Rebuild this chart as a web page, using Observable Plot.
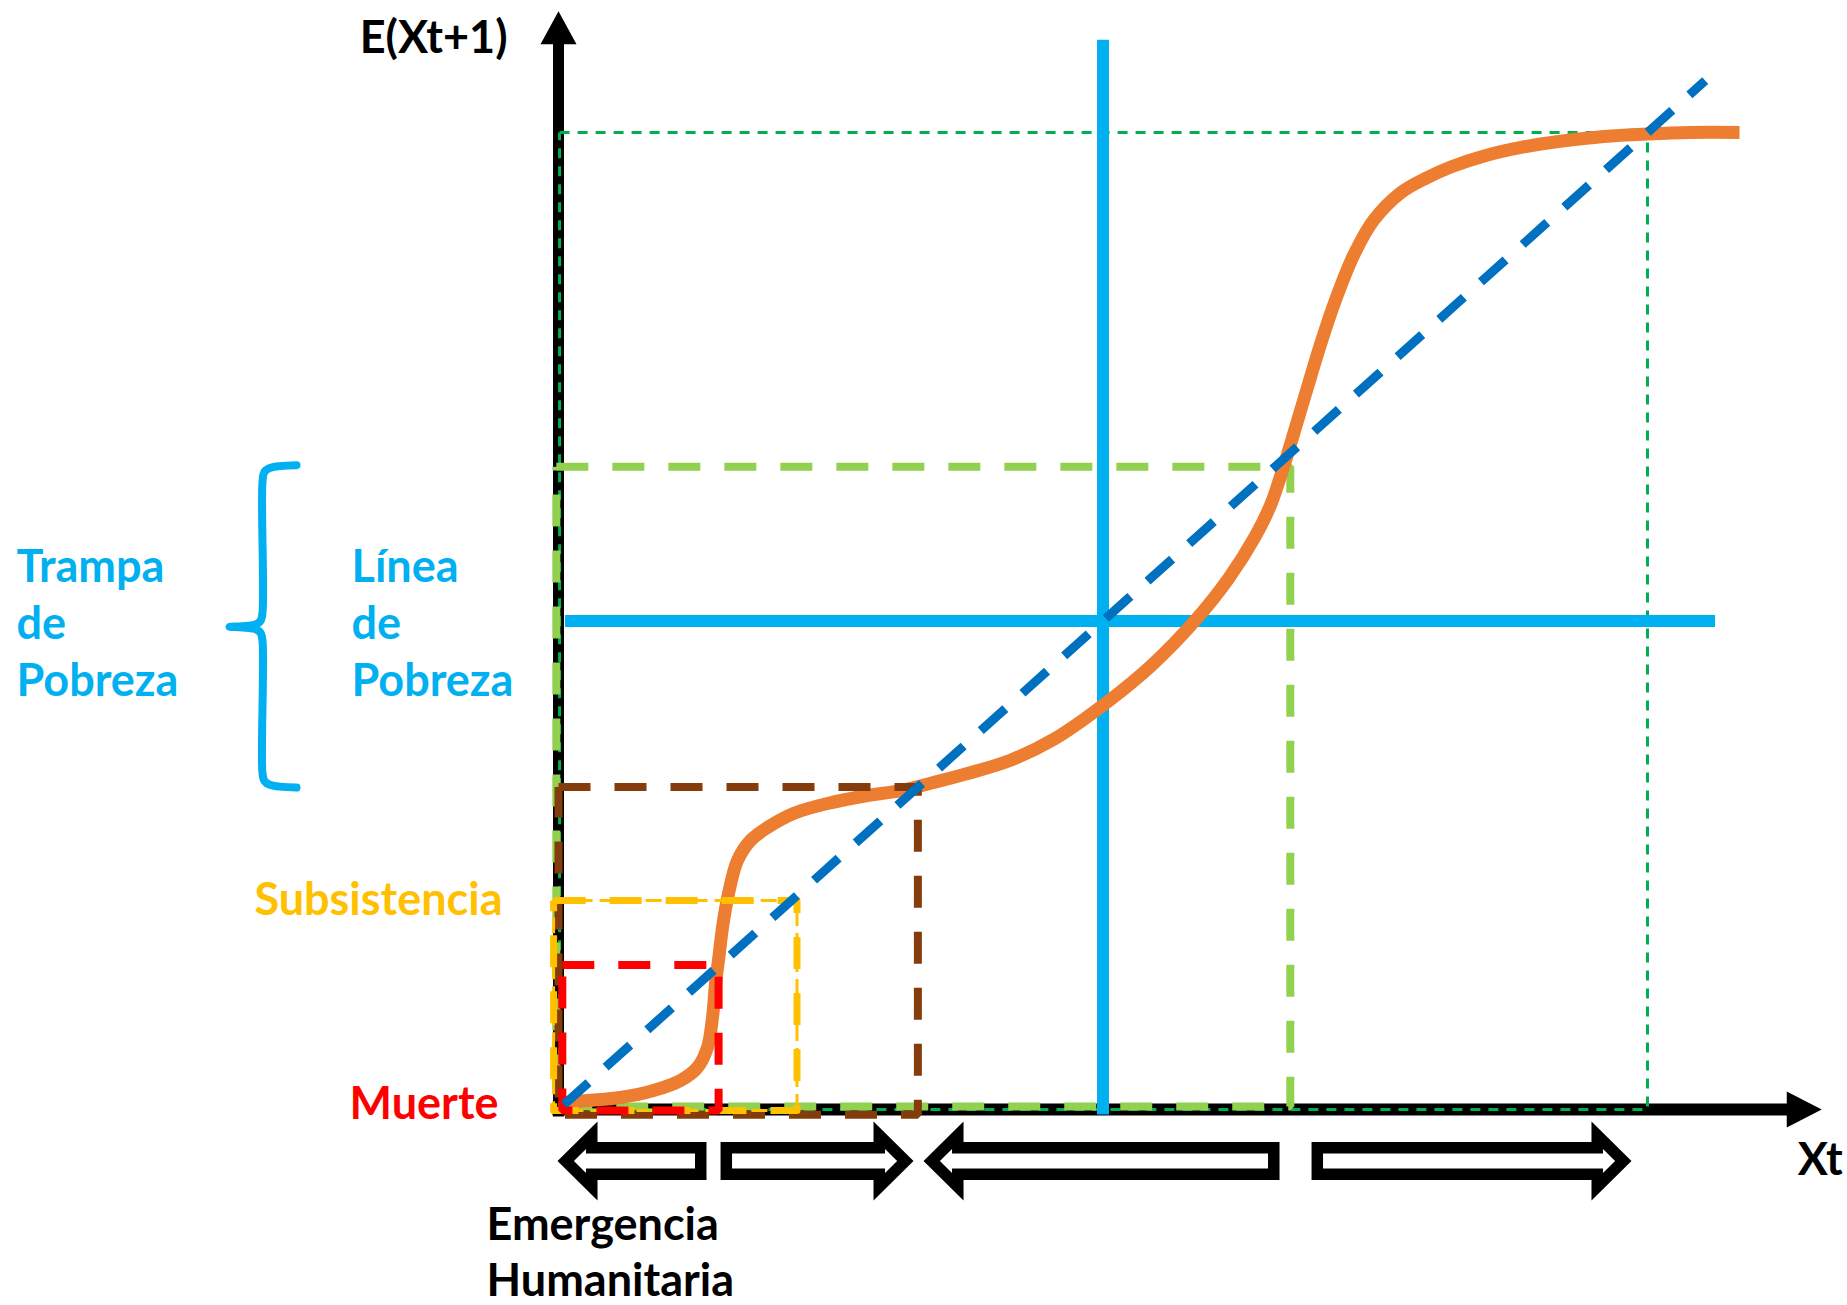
<!DOCTYPE html>
<html>
<head>
<meta charset="utf-8">
<script src="https://cdn.jsdelivr.net/npm/d3@7"></script>
<script src="https://cdn.jsdelivr.net/npm/@observablehq/plot@0.6"></script>
<style>
  html, body { margin: 0; padding: 0; background: #ffffff; }
  #chart svg { display: block; }
</style>
</head>
<body>
<div id="chart"></div>
<script>
// ---------------- DATA ----------------
// Dynamics curve Xt -> E(Xt+1) (orange S-curve), in income units
const curveX = [0.64, 2.66, 5.69, 8.72, 11.20, 12.76, 13.68, 14.14, 14.42, 14.69, 15.06, 15.61, 16.44, 17.63, 19.19,
  21.58, 24.70, 28.37, 31.40, 34.44, 37.56, 41.5, 45.5, 50.5, 54.5, 58.5, 61.5, 64.0, 65.4, 66.5,
  67.6, 68.8, 70.0, 71.4, 73.0, 74.84, 77.3, 79.8, 82.0, 85.0, 88.5, 92.0, 96.0, 100.0, 104.0, 108.45];
const curveY = [0.72, 0.92, 1.23, 1.94, 2.97, 4.30, 6.35, 9.42, 12.90, 15.25, 18.63, 22.11, 25.49, 27.53, 28.86,
  30.30, 31.32, 32.14, 32.65, 33.47, 34.39, 35.75, 37.9, 41.8, 45.5, 50.1, 54.3, 58.7, 61.9, 65.5,
  69.5, 74.0, 78.4, 83.0, 87.4, 91.0, 93.8, 95.4, 96.5, 97.6, 98.5, 99.1, 99.6, 99.85, 100.0, 100.0];

// 45-degree line E(Xt+1) = Xt
const diagonalX = [0.5, 105.3];

// Reference levels (dashed boxes): x and y of each corner
const levelNames = ["Muerte", "Subsistencia", "Trampa inferior", "Trampa superior", "Equilibrio alto"];
const levelX = [14.7, 21.9, 33.0, 67.2, 100.0];
const levelY = [14.8, 21.4, 33.0, 65.8, 100.0];

// Poverty line (horizontal and vertical)
const povertyLine = 50;
const povertyExtentX = [0.6, 106.2];
const povertyExtentY = [-0.5, 109.5];

// Axis extents
const axisLabels = ["E(Xt+1)", "Xt"];
const axisXEnd = 116.0;
const axisYEnd = 112.4;

// Direction arrows below the x axis (tail, tip)
const arrowTail = [13.59, 14.88, 66.21, 69.15];
const arrowTip  = [-0.09, 32.60, 33.52, 98.53];

// Text annotations
const labelTrampa = "Trampa\nde\nPobreza";
const labelLinea = "Línea\nde\nPobreza";
const labelSubsistencia = "Subsistencia";
const labelMuerte = "Muerte";
const labelEmergencia = "Emergencia\nHumanitaria";

// ---------------- LAYOUT / STYLE ----------------
const X_PX = [558, 1647];
const Y_PX = [1109, 132];
const ux = 100 / (X_PX[1] - X_PX[0]);   // data units per pixel (x)
const uy = 100 / (Y_PX[0] - Y_PX[1]);   // data units per pixel (y)

const FONT = "Lato, 'Open Sans', sans-serif";
const FS = 45;
const LH = 1.26;

const C = {
  orange: "#ED7D31", blueDash: "#0070C0", cyan: "#00B0F0", lime: "#92D050",
  green: "#00B050", brown: "#843C0C", yellow: "#FFC000", red: "#FF0000", black: "#000000"
};

// rectangles (in data) for each level, with tiny offsets so overlapping sides stay visible
function rect(x0, y0, x1, y1) {
  return [[x0, y1], [x1, y1], [x1, y0], [x0, y0], [x0, y1]].map(([x, y]) => ({x, y}));
}
const boxRed    = rect(0.35, -0.1, levelX[0], levelY[0]);
const boxYellow = rect(-0.45, -0.1, levelX[1], levelY[1]);
const boxBrown  = rect(0.0, -0.55, levelX[2], levelY[2]);
const boxLime   = rect(-0.2, 0.3, levelX[3], levelY[3]);
const boxGreen  = rect(0.1, 0.0, levelX[4], levelY[4]);

const curve = curveX.map((x, i) => ({x, y: curveY[i]}));
const diagonal = diagonalX.map(x => ({x, y: x}));

// block arrows: outer black polygon and inner white polygon (offsets in px)
const yArrow = -51.5 * uy;
function arrowPoly(tail, tip, id, outer) {
  const dir = Math.sign(tip - tail);
  const L = Math.abs(tip - tail) / ux;
  const pts = outer
    ? [[0, 0], [40, 39.5], [40, 19], [L, 19], [L, -19], [40, -19], [40, -39.5]]
    : [[16.4, 0], [28.5, 11.9], [28.5, 7.5], [L - 11.5, 7.5], [L - 11.5, -7.5], [28.5, -7.5], [28.5, -11.9]];
  return pts.map(([a, b]) => ({id, x: tip - dir * a * ux, y: yArrow + b * uy}));
}
const arrowsOuter = arrowTail.flatMap((t, i) => arrowPoly(t, arrowTip[i], i, true));
const arrowsInner = arrowTail.flatMap((t, i) => arrowPoly(t, arrowTip[i], i, false));

// axis arrow heads
const headY = [{x: -18 * ux, y: axisYEnd - 33 * uy}, {x: 18 * ux, y: axisYEnd - 33 * uy}, {x: 0, y: axisYEnd}];
const headX = [{x: axisXEnd - 35 * ux, y: 18 * uy}, {x: axisXEnd - 35 * ux, y: -18 * uy}, {x: axisXEnd, y: 0}];

// curly brace spanning the poverty-trap levels
function brace(xSpinePx, yTop, yMid, yBot) {
  const xs = xSpinePx * ux;
  const p = [
    [34, yTop, 0.5], [8, yTop, -2], [2, yTop, -6], [0, yTop, -16],
    [0, yMid, 14], [-2, yMid, 6], [-8, yMid, 2], [-20, yMid, 0.6], [-33, yMid, 0],
    [-20, yMid, -0.6], [-8, yMid, -2], [-2, yMid, -6], [0, yMid, -14],
    [0, yBot, 14], [2, yBot, 6], [8, yBot, 2], [34, yBot, -0.5]
  ];
  return p.map(([dx, y, dy]) => ({x: xs + dx * ux, y: y + dy * uy}));
}
const bracePts = brace(-296, levelY[3] + 0.1, 49.4, levelY[2]);

const textBase = {fontFamily: FONT, fontSize: FS, fontWeight: "bold", lineHeight: LH};
const dashed = {strokeWidth: 8, strokeDasharray: "32,24", strokeLinecap: "butt", strokeLinejoin: "miter"};

const chart = Plot.plot({
  width: 1847,
  height: 1305,
  margin: 0,
  x: {domain: [0, 100], range: X_PX, axis: null},
  y: {domain: [0, 100], range: Y_PX, axis: null},
  style: {background: "#ffffff", overflow: "visible"},
  marks: [
    // axes
    Plot.line([{x: 0, y: -7 * uy}, {x: 0, y: axisYEnd - 30 * uy}], {x: "x", y: "y", stroke: C.black, strokeWidth: 11, strokeLinecap: "butt"}),
    Plot.line([{x: -6 * ux, y: 0}, {x: axisXEnd - 32 * ux, y: 0}], {x: "x", y: "y", stroke: C.black, strokeWidth: 12, strokeLinecap: "butt"}),
    Plot.line(headY, {x: "x", y: "y", fill: C.black, stroke: "none"}),
    Plot.line(headX, {x: "x", y: "y", fill: C.black, stroke: "none"}),

    // high-equilibrium dotted box
    Plot.line(boxGreen, {x: "x", y: "y", stroke: C.green, strokeWidth: 3, strokeDasharray: "10,8", strokeLinecap: "butt"}),
    // upper trap box
    Plot.line(boxLime, {x: "x", y: "y", stroke: C.lime, ...dashed}),
    // poverty lines
    Plot.line(povertyExtentY.map(y => ({x: povertyLine, y})), {x: "x", y: "y", stroke: C.cyan, strokeWidth: 12, strokeLinecap: "butt"}),
    Plot.line(povertyExtentX.map(x => ({x, y: povertyLine})), {x: "x", y: "y", stroke: C.cyan, strokeWidth: 12, strokeLinecap: "butt"}),
    // dynamics curve
    Plot.line(curve, {x: "x", y: "y", stroke: C.orange, strokeWidth: 13, curve: "catmull-rom", strokeLinecap: "butt"}),
    // lower boxes
    Plot.line(boxBrown, {x: "x", y: "y", stroke: C.brown, ...dashed}),
    Plot.line(boxYellow, {x: "x", y: "y", stroke: C.yellow, strokeWidth: 3, strokeDasharray: "16,7", strokeLinecap: "butt"}),
    Plot.line(boxYellow, {x: "x", y: "y", stroke: C.yellow, strokeWidth: 7, strokeDasharray: "32,24", strokeLinecap: "butt"}),
    Plot.line(boxRed, {x: "x", y: "y", stroke: C.red, ...dashed}),
    // 45-degree line
    Plot.line(diagonal, {x: "x", y: "y", stroke: C.blueDash, strokeWidth: 9, strokeDasharray: "33,23", strokeLinecap: "butt"}),

    // brace
    Plot.line(bracePts, {x: "x", y: "y", stroke: C.cyan, strokeWidth: 8, curve: "catmull-rom", strokeLinejoin: "round"}),

    // direction arrows
    Plot.line(arrowsOuter, {x: "x", y: "y", z: "id", fill: C.black, stroke: "none"}),
    Plot.line(arrowsInner, {x: "x", y: "y", z: "id", fill: "#ffffff", stroke: "none"}),

    // texts
    Plot.text([axisLabels[0]], {x: 0, y: axisYEnd, text: d => d, textAnchor: "end", lineAnchor: "bottom", dx: -51, dy: 42, fill: C.black, ...textBase}),
    Plot.text([axisLabels[1]], {x: axisXEnd, y: 0, text: d => d, textAnchor: "start", lineAnchor: "bottom", dx: -24, dy: 65, fill: C.black, ...textBase}),
    Plot.text([labelTrampa], {x: 0, y: povertyLine, text: d => d, textAnchor: "start", lineAnchor: "middle", dx: -542, dy: 0, fill: C.cyan, ...textBase}),
    Plot.text([labelLinea], {x: 0, y: povertyLine, text: d => d, textAnchor: "start", lineAnchor: "middle", dx: -207, dy: 0, fill: C.cyan, ...textBase}),
    Plot.text([labelSubsistencia], {x: 0, y: levelY[1], text: d => d, textAnchor: "end", lineAnchor: "bottom", dx: -56, dy: 15, fill: C.yellow, ...textBase}),
    Plot.text([labelMuerte], {x: 0, y: 0, text: d => d, textAnchor: "end", lineAnchor: "bottom", dx: -60, dy: 9, fill: C.red, ...textBase}),
    Plot.text([labelEmergencia], {x: 0, y: 0, text: d => d, textAnchor: "start", lineAnchor: "top", dx: -72, dy: 90, fill: C.black, ...textBase})
  ]
});
document.getElementById("chart").append(chart);
</script>
</body>
</html>
